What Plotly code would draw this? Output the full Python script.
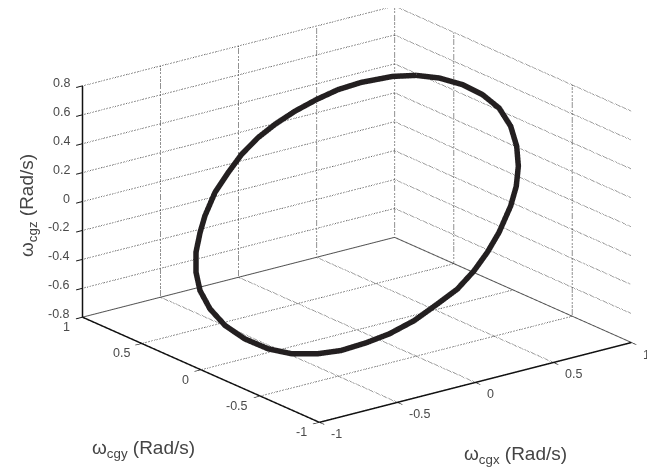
import plotly.graph_objects as go

wx = [0.727,0.806,0.870,0.910,0.925,0.903,0.854,0.788,0.708,0.615,0.475,0.358,0.241,0.112,-0.018,-0.167,-0.309,-0.430,-0.553,-0.654,-0.754,-0.825,-0.878,-0.905,-0.902,-0.874,-0.823,-0.751,-0.663,-0.585,-0.462,-0.340,-0.223,-0.100,0.012,0.135,0.260,0.378,0.493,0.634,0.727]
wy = [0.458,0.367,0.255,0.139,0.019,-0.108,-0.223,-0.324,-0.412,-0.487,-0.573,-0.628,-0.670,-0.700,-0.703,-0.702,-0.680,-0.643,-0.594,-0.530,-0.439,-0.336,-0.209,-0.077,0.053,0.174,0.275,0.370,0.451,0.513,0.590,0.639,0.680,0.703,0.709,0.703,0.685,0.658,0.613,0.534,0.458]
wz = [0.593,0.586,0.563,0.525,0.472,0.398,0.316,0.232,0.148,0.064,-0.049,-0.135,-0.215,-0.294,-0.360,-0.435,-0.495,-0.537,-0.574,-0.592,-0.597,-0.581,-0.544,-0.491,-0.425,-0.350,-0.274,-0.190,-0.106,-0.036,0.064,0.150,0.229,0.302,0.360,0.419,0.472,0.518,0.553,0.584,0.593]

x_ticks = [-1, -0.5, 0, 0.5, 1]
y_ticks = [-1, -0.5, 0, 0.5, 1]
z_ticks = [-0.8, -0.6, -0.4, -0.2, 0, 0.2, 0.4, 0.6, 0.8]
y_wall_verticals = [1, 0.5, -0.5]

GRID = "#333333"
fig = go.Figure()

def seg(xs, ys, zs, dash="dot", color=GRID, width=2):
    fig.add_trace(go.Scatter3d(x=xs, y=ys, z=zs, mode="lines", showlegend=False, hoverinfo="skip",
                               line=dict(color=color, width=width, dash=dash)))

zmin, zmax = z_ticks[0], z_ticks[-1]
for z in z_ticks:
    seg([-1, 1], [1, 1], [z, z])
    seg([1, 1], [1, -1], [z, z])
for x in x_ticks[1:]:
    seg([x, x], [1, 1], [zmin, zmax], color="#222222")
    seg([x, x], [1, -1], [zmin, zmin])
for y in y_wall_verticals:
    seg([1, 1], [y, y], [zmin, zmax], color="#222222")
for y in y_ticks[1:-1]:
    seg([-1, 1], [y, y], [zmin, zmin])
seg([-1, 1], [1, 1], [zmin, zmin], dash="solid", color="#555555", width=2)
seg([1, 1], [1, -1], [zmin, zmin], dash="solid", color="#555555", width=2)
seg([-1, -1], [1, 1], [zmin, zmax], dash="solid", color="#111111", width=3)
seg([-1, -1], [1, -1], [zmin, zmin], dash="solid", color="#111111", width=3)
seg([-1, 1], [-1, -1], [zmin, zmin], dash="solid", color="#111111", width=3)

fig.add_trace(go.Scatter3d(x=wx, y=wy, z=wz, mode="lines", showlegend=False,
                           line=dict(color="#231f20", width=11)))

axis = dict(showgrid=False, zeroline=False, showbackground=False, showspikes=False, showline=False,
            ticks="outside", ticklen=8, tickwidth=2, tickcolor="#111111", showticklabels=False,
            title=dict(text=""))
tfont = dict(family="Liberation Sans", size=12.5, color="#4a4a4a")

scene_ann = []
for t in x_ticks:
    scene_ann.append(dict(x=t, y=-1, z=zmin, text=str(t), showarrow=False, xanchor="left", yanchor="middle",
                          xshift=10, yshift=-12, font=tfont))
for t in y_ticks:
    scene_ann.append(dict(x=-1, y=t, z=zmin, text=str(t), showarrow=False, xanchor="right", yanchor="middle",
                          xshift=-10, yshift=-10, font=tfont))
for t in z_ticks:
    scene_ann.append(dict(x=-1, y=1, z=t, text=str(t), showarrow=False, xanchor="right", yanchor="middle",
                          xshift=-10, yshift=3, font=tfont))

r = 1.9
k = 1.757
cz = -0.08
fig.update_layout(
    width=655, height=470, margin=dict(l=0, r=0, t=0, b=0), paper_bgcolor="white",
    scene=dict(
        domain=dict(x=[0.0656, 1], y=[0.0511, 1]),
        xaxis=dict(axis, range=[-1, 1], tickvals=x_ticks),
        yaxis=dict(axis, range=[-1, 1], tickvals=y_ticks),
        zaxis=dict(axis, range=[zmin, zmax], tickvals=z_ticks),
        aspectmode="manual", aspectratio=dict(x=k, y=k, z=0.627*k),
        camera=dict(eye=dict(x=-0.5692*r, y=-0.7499*r, z=0.337*r + cz), up=dict(x=0, y=0, z=1),
                    center=dict(x=0, y=0, z=cz), projection=dict(type="orthographic")),
        annotations=scene_ann,
    ),
    annotations=[
        dict(text="ω<sub>cgz</sub> (Rad/s)", x=20/655, y=1-198/470, textangle=-90),
        dict(text="ω<sub>cgy</sub> (Rad/s)", x=135/655, y=1-441/470),
        dict(text="ω<sub>cgx</sub> (Rad/s)", x=507/655, y=1-447/470),
    ],
)
for a in fig.layout.annotations:
    a.update(xref="paper", yref="paper", xanchor="center", yanchor="middle", showarrow=False,
             font=dict(family="Liberation Sans", size=19, color="#444444"))
fig.write_html("out.html")
